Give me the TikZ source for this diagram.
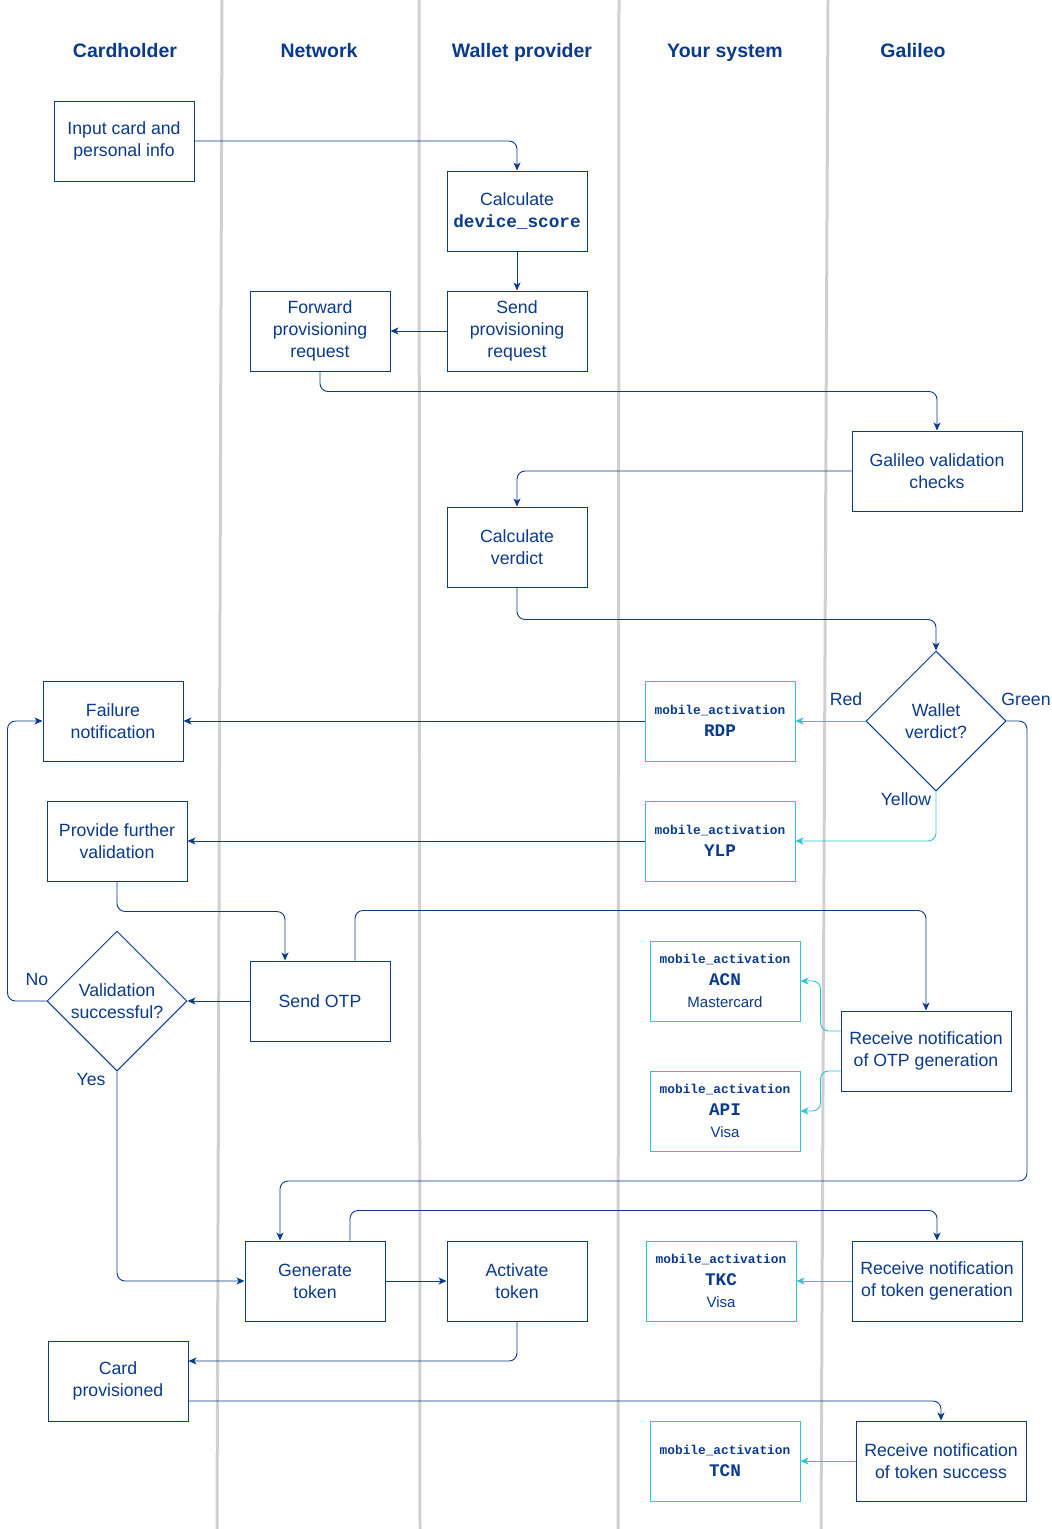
\documentclass[tikz,border=0pt]{standalone}
\usepackage{fontspec}
\setmainfont{Liberation Sans}
\setmonofont{Liberation Mono}
\usetikzlibrary{arrows.meta,shapes.geometric}
\definecolor{navy}{HTML}{0A3A8C}
\definecolor{cyanline}{HTML}{2EC4D3}
\definecolor{lanegray}{HTML}{D0D0D0}
\newcommand{\mact}[2]{{\fontsize{12.8}{21}\selectfont\ttfamily\bfseries mobile\_activation}\\{\ttfamily\bfseries #1}#2}
\begin{document}
\begin{tikzpicture}[x=1pt,y=-1pt,
  txt/.style={text=navy,font=\fontsize{17.7}{22}\selectfont},
  hdr/.style={text=navy,font=\bfseries\fontsize{19.5}{24}\selectfont,anchor=base},
  box/.style={txt,draw=navy,line width=1pt,fill=white,minimum width=140pt,minimum height=80pt,inner sep=0pt,align=center},
  wbox/.style={box,minimum width=170pt},
  mbox/.style={box,draw=cyanline,minimum width=150pt},
  dia/.style={txt,diamond,draw=navy,line width=1pt,fill=white,minimum width=140pt,minimum height=140pt,inner sep=0pt,align=center},
  arr/.style={draw=navy,line width=0.9pt,rounded corners=8pt,-{Stealth[length=8pt,width=7pt,inset=2.2pt]}},
  carr/.style={arr,draw=cyanline},
  lane/.style={draw=lanegray,line width=3pt}]
\useasboundingbox (0,0) rectangle (1052,1529);
\fill[white] (0,0) rectangle (1052,1529);
% lanes
\draw[lane] (222,0) -- (217,1529);
\draw[lane] (419,0) -- (420,1529);
\draw[lane] (619,0) -- (618,1529);
\draw[lane] (828,0) -- (821,1529);
% headers
\node[hdr] (h1) at (125,57) {Cardholder};
\node[hdr] (h2) at (319,57) {Network};
\node[hdr] (h3) at (522,57) {Wallet provider};
\node[hdr] (h4) at (725,57) {Your system};
\node[hdr] (h5) at (913,57) {Galileo};
% nodes
\node[box] (input) at (124,141) {Input card and\\personal info};
\node[box] (dscore) at (517,211) {Calculate\\{\ttfamily\bfseries device\_score}};
\node[box] (sendprov) at (517,331) {Send\\provisioning\\request};
\node[box] (fwd) at (320,331) {Forward\\provisioning\\request};
\node[wbox] (galval) at (937,471) {Galileo validation\\checks};
\node[box] (cverdict) at (517,547) {Calculate\\verdict};
\node[dia] (wallet) at (936,721) {Wallet\\verdict?};
\node[mbox] (rdp) at (720,721) {\mact{RDP}{}};
\node[box] (fail) at (113,721) {Failure\\notification};
\node[mbox] (ylp) at (720,841) {\mact{YLP}{}};
\node[box] (further) at (117,841) {Provide further\\validation};
\node[dia] (valid) at (117,1001) {Validation\\successful?};
\node[box] (sendotp) at (320,1001) {Send OTP};
\node[mbox] (acn) at (725,981) {\mact{ACN}{\\{\fontsize{15}{21}\selectfont Mastercard}}};
\node[mbox] (api) at (725,1111) {\mact{API}{\\{\fontsize{15}{21}\selectfont Visa}}};
\node[wbox] (rotp) at (926,1051) {Receive notification\\of OTP generation};
\node[box] (gen) at (315,1281) {Generate\\token};
\node[box] (act) at (517,1281) {Activate\\token};
\node[mbox] (tkc) at (721,1281) {\mact{TKC}{\\{\fontsize{15}{21}\selectfont Visa}}};
\node[wbox] (rtokgen) at (937,1281) {Receive notification\\of token generation};
\node[box] (card) at (118,1381) {Card\\provisioned};
\node[mbox] (tcn) at (725,1461) {\mact{TCN}{}};
\node[wbox] (rtoksucc) at (941,1461) {Receive notification\\of token success};
% connectors
\draw[arr] (input.east) -| (dscore.north);
\draw[arr] (dscore) -- (sendprov);
\draw[arr] (sendprov) -- (fwd);
\draw[arr] (fwd.south) -- ++(0,20) -| (galval.north);
\draw[arr] (galval.west) -| (cverdict.north);
\draw[arr] (cverdict.south) -- ++(0,32) -| (wallet.north);
\draw[carr] (wallet.west) -- (rdp.east);
\draw[carr] (wallet.south) |- (ylp.east);
\coordinate (g1) at (1027,1181);
\draw[arr] (wallet.east) -| (g1) -| ([xshift=-35pt]gen.north);
\draw[arr] (rdp.west) -- (fail.east);
\draw[arr] (ylp.west) -- (further.east);
\draw[arr] (further.south) -- ++(0,30) -| ([xshift=-35pt]sendotp.north);
\draw[arr] ([xshift=35pt]sendotp.north) -- ++(0,-50) -| (rotp.north);
\draw[arr] (sendotp.west) -- (valid.east);
\draw[arr] (valid.west) -- ++(-39,0) |- (fail.west);
\draw[arr] (valid.south) |- (gen.west);
\draw[carr] ([yshift=20pt]rotp.west) -- ++(-20,0) |- (acn.east);
\draw[carr] ([yshift=-20pt]rotp.west) -- ++(-20,0) |- (api.east);
\draw[arr] (gen) -- (act);
\draw[arr] ([xshift=35pt]gen.north) -- ++(0,-30) -| (rtokgen.north);
\draw[carr] (rtokgen.west) -- (tkc.east);
\draw[arr] (act.south) |- ([yshift=20pt]card.east);
\draw[arr] ([yshift=-20pt]card.east) -| (rtoksucc.north);
\draw[carr] (rtoksucc.west) -- (tcn.east);
% labels
\node[txt] (lred) at (846,699) {Red};
\node[txt] (lgreen) at (1026,699) {Green};
\node[txt] (lyellow) at (906,799) {Yellow};
\node[txt] (lno) at (37,979) {No};
\node[txt] (lyes) at (91,1079) {Yes};
\end{tikzpicture}
\end{document}
